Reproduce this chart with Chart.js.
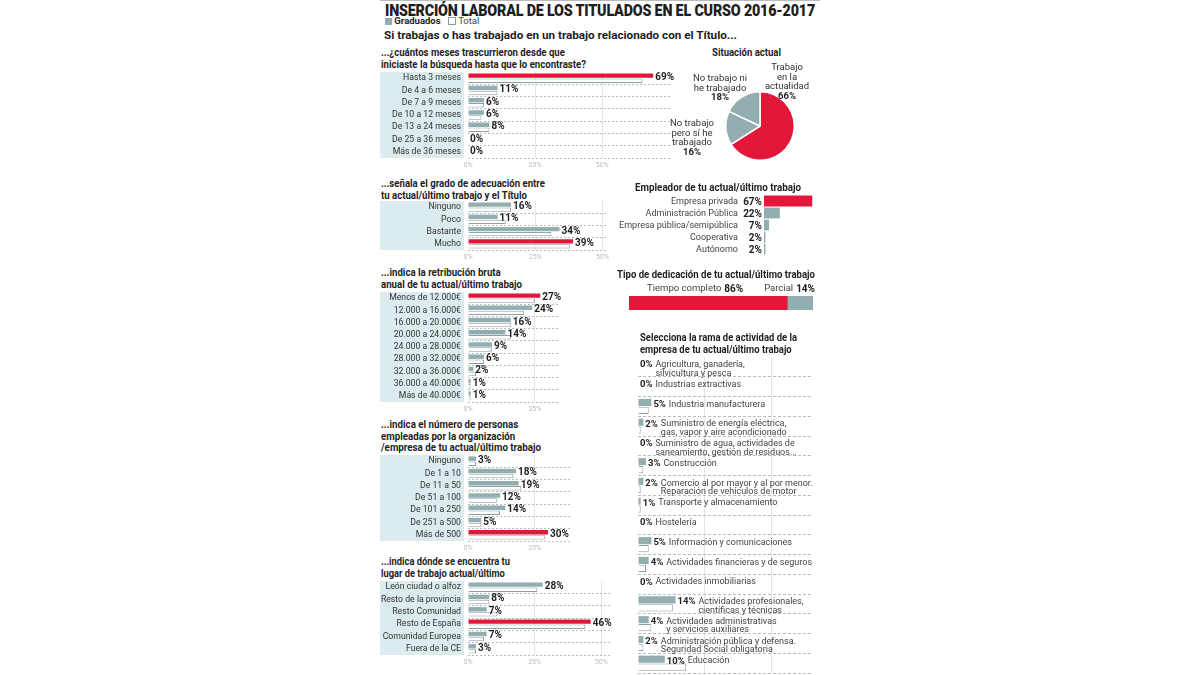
<!DOCTYPE html>
<html lang="es">
<head>
<meta charset="utf-8">
<title>Inserción laboral de los titulados 2016-2017</title>
<script src="https://cdn.jsdelivr.net/npm/chart.js@4.4.0/dist/chart.umd.min.js"></script>
<style>
  body { margin: 0; background: #fff; font-family: Roboto, 'Noto Sans', sans-serif; color: #1e1e1e; }
  #page { position: relative; width: 1200px; height: 675px; overflow: hidden; }
  .t { position: absolute; white-space: nowrap; transform-origin: left top; }
  .h { font-weight: 700; font-size: 10px; line-height: 11.5px; }
  .box { position: absolute; }
  .pie-lbl { position: absolute; width: 80px; text-align: center; font-size: 9.5px; line-height: 9.5px; color: #333; }
  .pie-lbl b { color: #1e1e1e; }
</style>
</head>
<body>
<div id="page">
  <div class="t" style="left:380px;top:0;width:440px;border-top:1px solid #bbb"></div>
  <div class="t" data-w="430" style="left:385px;top:1px;font-size:16px;font-weight:900;letter-spacing:-0.2px">INSERCIÓN LABORAL DE LOS TITULADOS EN EL CURSO 2016-2017</div>
  <div class="t" style="left:385px;top:16px;font-size:9.5px;line-height:10px">
    <span style="display:inline-block;width:7px;height:7px;background:#93aeb1;vertical-align:-1px"></span>
    <b>Graduados</b>
    <span style="display:inline-block;width:6px;height:6px;border:1px solid #8fa0a3;margin-left:5px;vertical-align:-1px"></span>
    <span style="color:#444">Total</span>
  </div>
  <div class="t" data-w="353" style="left:384px;top:29px;font-size:11px;font-weight:700">Si trabajas o has trabajado en un trabajo relacionado con el Título...</div>

  <div class="t h" data-w="205" style="left:381px;top:47px">...¿cuántos meses trascurrieron desde que<br>iniciaste la búsqueda hasta que lo encontraste?</div>
  <div class="box" style="left:380px;top:72px;width:310px;height:98px"><canvas id="cMeses"></canvas></div>

  <div class="t h" data-w="69" style="left:712px;top:47px">Situación actual</div>
  <div class="box" style="left:725px;top:91px;width:70px;height:70px"><canvas id="cSituacion"></canvas></div>
  <div id="pieLabels"></div>

  <div class="t h" data-w="164" style="left:381px;top:178px">...señala el grado de adecuación entre<br>tu actual/último trabajo y el Título</div>
  <div class="box" style="left:380px;top:201px;width:246px;height:61px"><canvas id="cAdecuacion"></canvas></div>

  <div class="t h" data-w="166" style="left:635px;top:182px">Empleador de tu actual/último trabajo</div>
  <div class="box" style="left:610px;top:195px;width:210px;height:60px"><canvas id="cEmpleador"></canvas></div>

  <div class="t h" data-w="141" style="left:381px;top:267px">...indica la retribución bruta<br>anual de tu actual/último trabajo</div>
  <div class="box" style="left:380px;top:292px;width:197px;height:122px"><canvas id="cRetrib"></canvas></div>

  <div class="t h" data-w="198" style="left:617px;top:269px">Tipo de dedicación de tu actual/último trabajo</div>
  <div class="box" style="left:620px;top:282px;width:202px;height:28px"><canvas id="cDedicacion"></canvas></div>

  <div class="t h" data-w="157" style="left:640px;top:332px">Selecciona la rama de actividad de la<br>empresa de tu actual/último trabajo</div>
  <div class="box" style="left:630px;top:357px;width:190px;height:318px"><canvas id="cRama"></canvas></div>

  <div class="t h" data-w="160" style="left:381px;top:419px">...indica el número de personas<br>empleadas por la organización<br>/empresa de tu actual/último trabajo</div>
  <div class="box" style="left:380px;top:455px;width:210px;height:98px"><canvas id="cPersonas"></canvas></div>

  <div class="t h" data-w="129" style="left:381px;top:556px">...indica dónde se encuentra tu<br>lugar de trabajo actual/último</div>
  <div class="box" style="left:380px;top:581px;width:250px;height:86px"><canvas id="cLugar"></canvas></div>
</div>

<script>
// datos
const mesesCats = ['Hasta 3 meses', 'De 4 a 6 meses', 'De 7 a 9 meses', 'De 10 a 12 meses', 'De 13 a 24 meses', 'De 25 a 36 meses', 'Más de 36 meses'];
const mesesGrad = [69, 11, 6, 6, 8, 0, 0];
const mesesTotal = [65, 11, 6, 5, 8, 0, 0];

const adecCats = ['Ninguno', 'Poco', 'Bastante', 'Mucho'];
const adecGrad = [16, 11, 34, 39];
const adecTotal = [16, 14, 31, 38];

const retribCats = ['Menos de 12.000€', '12.000 a 16.000€', '16.000 a 20.000€', '20.000 a 24.000€', '24.000 a 28.000€', '28.000 a 32.000€', '32.000 a 36.000€', '36.000 a 40.000€', 'Más de 40.000€'];
const retribGrad = [27, 24, 16, 14, 9, 6, 2, 1, 1];
const retribTotal = [25, 21, 16, 16, 9, 6, 3, 1, 1];

const personasCats = ['Ninguno', 'De 1 a 10', 'De 11 a 50', 'De 51 a 100', 'De 101 a 250', 'De 251 a 500', 'Más de 500'];
const personasGrad = [3, 18, 19, 12, 14, 5, 30];
const personasTotal = [3, 17, 20, 11, 12, 5, 29];

const lugarCats = ['León ciudad o alfoz', 'Resto de la provincia', 'Resto Comunidad', 'Resto de España', 'Comunidad Europea', 'Fuera de la CE'];
const lugarGrad = [28, 8, 7, 46, 7, 3];
const lugarTotal = [26, 8, 11, 44, 6, 3];

const situacionCats = [['Trabajo', 'en la', 'actualidad'], ['No trabajo', 'pero sí he', 'trabajado'], ['No trabajo ni', 'he trabajado']];
const situacionVals = [66, 16, 18];

const empleadorCats = ['Empresa privada', 'Administración Pública', 'Empresa pública/semipública', 'Cooperativa', 'Autónomo'];
const empleadorVals = [67, 22, 7, 2, 2];

const dedicacionCats = ['Tiempo completo', 'Parcial'];
const dedicacionVals = [86, 14];

const ramaCats = [
  ['Agricultura, ganadería,', 'silvicultura y pesca'],
  ['Industrias extractivas'],
  ['Industria manufacturera'],
  ['Suministro de energía eléctrica,', 'gas, vapor y aire acondicionado'],
  ['Suministro de agua, actividades de', 'saneamiento, gestión de residuos...'],
  ['Construcción'],
  ['Comercio al por mayor y al por menor.', 'Reparación de vehículos de motor'],
  ['Transporte y almacenamiento'],
  ['Hostelería'],
  ['Información y comunicaciones'],
  ['Actividades financieras y de seguros'],
  ['Actividades inmobiliarias'],
  ['Actividades profesionales,', 'científicas y técnicas'],
  ['Actividades administrativas', 'y servicios auxiliares'],
  ['Administración pública y defensa.', 'Seguridad Social obligatoria'],
  ['Educación']
];
const ramaGrad = [0, 0, 5, 2, 0, 3, 2, 1, 0, 5, 4, 0, 14, 4, 2, 10];
const ramaTotal = [0, 0, 4, 1, 0, 2, 1, 1, 0, 4, 3, 0, 13, 5, 2, 18];

const ejeTicks = [0, 25, 50];

// estilos
const ROJO = '#e3173a';
const GRIS = '#93aeb1';
const PANEL = '#dcebee';
const LINEA = '#8fa0a3';
const FUENTE = 'Roboto, sans-serif';
const NADA = 'rgba(0,0,0,0)';

Chart.defaults.font.family = FUENTE;
Chart.defaults.animation = false;
Chart.defaults.plugins.legend.display = false;
Chart.defaults.plugins.tooltip.enabled = false;

// ajusta el ancho de los titulos
document.querySelectorAll('[data-w]').forEach(el => {
  const w = el.getBoundingClientRect().width;
  el.style.transform = 'scaleX(' + (parseFloat(el.dataset.w) / w) + ')';
});

const panelFondo = {
  id: 'panelFondo',
  beforeDraw(chart) {
    const a = chart.chartArea;
    const ctx = chart.ctx;
    ctx.save();
    ctx.fillStyle = PANEL;
    ctx.fillRect(0, a.top, a.left - 4, a.bottom - a.top);
    ctx.restore();
  }
};

const etiquetasPct = {
  id: 'etiquetasPct',
  afterDatasetsDraw(chart) {
    const ctx = chart.ctx;
    const meta = chart.getDatasetMeta(0);
    const datos = chart.data.datasets[0].data;
    ctx.save();
    ctx.font = 'bold 10px ' + FUENTE;
    ctx.fillStyle = '#1e1e1e';
    ctx.textBaseline = 'middle';
    meta.data.forEach((bar, i) => {
      ctx.fillText(datos[i] + '%', Math.max(bar.x, chart.chartArea.left) + 2, bar.y + 2);
    });
    ctx.restore();
  }
};

function gridX(c) {
  return c.tick && c.tick.value === 0 ? NADA : '#e0e5e6';
}

function gridY(c) {
  return c.index === 0 ? NADA : '#b3c0c2';
}

function barrasDobles(id, cats, grad, total, maxX) {
  const mayor = Math.max(...grad);
  new Chart(document.getElementById(id), {
    type: 'bar',
    data: {
      labels: cats,
      datasets: [
        { label: 'Graduados', data: grad, backgroundColor: grad.map(v => v === mayor ? ROJO : GRIS), borderWidth: 0 },
        { label: 'Total', data: total, backgroundColor: '#fff', borderColor: LINEA, borderWidth: 1 }
      ]
    },
    options: {
      indexAxis: 'y',
      responsive: true,
      maintainAspectRatio: false,
      layout: { padding: { right: 18 } },
      datasets: { bar: { categoryPercentage: 0.82, barPercentage: 0.88 } },
      scales: {
        x: {
          min: 0, max: maxX,
          afterBuildTicks: s => { s.ticks = ejeTicks.filter(v => v <= maxX).map(v => ({ value: v })); },
          afterFit: s => { s.height = 12; s.paddingLeft = 0; s.paddingRight = 0; },
          grid: { color: gridX, drawTicks: false },
          border: { display: false },
          ticks: { font: { size: 7 }, color: '#bbb', padding: 3, callback: v => v + '%' }
        },
        y: {
          afterFit: s => { s.width = 88; s.paddingTop = 0; s.paddingBottom = 0; },
          grid: { color: gridY, drawTicks: false },
          border: { display: false, dash: [2, 2] },
          ticks: { font: { size: 8.7 }, color: '#333', padding: 7, autoSkip: false }
        }
      }
    },
    plugins: [panelFondo, etiquetasPct]
  });
}

barrasDobles('cMeses', mesesCats, mesesGrad, mesesTotal, 76);
barrasDobles('cAdecuacion', adecCats, adecGrad, adecTotal, 52);
barrasDobles('cRetrib', retribCats, retribGrad, retribTotal, 34);
barrasDobles('cPersonas', personasCats, personasGrad, personasTotal, 39);
barrasDobles('cLugar', lugarCats, lugarGrad, lugarTotal, 54);

// situación actual
new Chart(document.getElementById('cSituacion'), {
  type: 'pie',
  data: {
    labels: situacionCats.map(l => l.join(' ')),
    datasets: [{ data: situacionVals, backgroundColor: [ROJO, GRIS, GRIS], borderColor: '#fff', borderWidth: 1.5 }]
  },
  options: { responsive: true, maintainAspectRatio: false }
});

const piePos = [[787, 62], [692, 118], [720, 73]];
document.getElementById('pieLabels').innerHTML = situacionCats.map((l, i) =>
  `<div class="pie-lbl" style="left:${piePos[i][0] - 40}px;top:${piePos[i][1]}px">${l.join('<br>')}<br><b>${situacionVals[i]}%</b></div>`
).join('');

// empleador: etiquetas de categoría y porcentaje a la izquierda de la barra
const etiquetasEmpleador = {
  id: 'etiquetasEmpleador',
  afterDatasetsDraw(chart) {
    const ctx = chart.ctx;
    const datos = chart.data.datasets[0].data;
    const izq = chart.chartArea.left;
    ctx.save();
    ctx.textAlign = 'right';
    ctx.textBaseline = 'middle';
    chart.getDatasetMeta(0).data.forEach((bar, i) => {
      ctx.font = 'bold 10px ' + FUENTE;
      ctx.fillStyle = '#1e1e1e';
      ctx.fillText(datos[i] + '%', izq - 2, bar.y + 1);
      ctx.font = '9px ' + FUENTE;
      ctx.fillStyle = '#444';
      ctx.fillText(chart.data.labels[i], izq - 26, bar.y + 1);
    });
    ctx.restore();
  }
};

const mayorEmp = Math.max(...empleadorVals);
new Chart(document.getElementById('cEmpleador'), {
  type: 'bar',
  data: {
    labels: empleadorCats,
    datasets: [{ data: empleadorVals, backgroundColor: empleadorVals.map(v => v === mayorEmp ? ROJO : GRIS), borderWidth: 0 }]
  },
  options: {
    indexAxis: 'y',
    responsive: true,
    maintainAspectRatio: false,
    layout: { padding: { left: 154, right: 2 } },
    datasets: { bar: { categoryPercentage: 1, barPercentage: 0.9 } },
    scales: {
      x: { display: false, min: 0, max: 75 },
      y: { display: false }
    }
  },
  plugins: [etiquetasEmpleador]
});

// dedicación
const etiquetasDedicacion = {
  id: 'etiquetasDedicacion',
  afterDatasetsDraw(chart) {
    const ctx = chart.ctx;
    const y = chart.chartArea.top - 7;
    ctx.save();
    ctx.textBaseline = 'middle';
    ctx.textAlign = 'right';
    chart.data.datasets.forEach((ds, i) => {
      const bar = chart.getDatasetMeta(i).data[0];
      const der = i === 0 ? bar.x - 44 : bar.x + 2;
      ctx.font = 'bold 10px ' + FUENTE;
      ctx.fillStyle = '#1e1e1e';
      const pct = ds.data[0] + '%';
      ctx.fillText(pct, der, y);
      const w = ctx.measureText(pct).width;
      ctx.font = '9.5px ' + FUENTE;
      ctx.fillStyle = '#444';
      ctx.fillText(ds.label, der - w - 3, y);
    });
    ctx.restore();
  }
};

new Chart(document.getElementById('cDedicacion'), {
  type: 'bar',
  data: {
    labels: [''],
    datasets: dedicacionCats.map((c, i) => ({ label: c, data: [dedicacionVals[i]], backgroundColor: i === 0 ? ROJO : GRIS, borderWidth: 0 }))
  },
  options: {
    indexAxis: 'y',
    responsive: true,
    maintainAspectRatio: false,
    layout: { padding: { left: 9, right: 9, top: 14, bottom: 0 } },
    datasets: { bar: { categoryPercentage: 1, barPercentage: 1 } },
    scales: {
      x: { display: false, stacked: true, min: 0, max: 100 },
      y: { display: false, stacked: true }
    }
  },
  plugins: [etiquetasDedicacion]
});

// rama de actividad
const etiquetasRama = {
  id: 'etiquetasRama',
  afterDatasetsDraw(chart) {
    const ctx = chart.ctx;
    const datos = chart.data.datasets[0].data;
    ctx.save();
    ctx.textBaseline = 'middle';
    chart.getDatasetMeta(0).data.forEach((bar, i) => {
      const x = Math.max(bar.x, chart.chartArea.left) + 2;
      const y = bar.y + 2;
      const pct = datos[i] + '%';
      ctx.font = 'bold 9.5px ' + FUENTE;
      ctx.fillStyle = '#1e1e1e';
      ctx.fillText(pct, x, y);
      const xn = x + ctx.measureText(pct).width + 3;
      ctx.font = '9px ' + FUENTE;
      ctx.fillStyle = '#444';
      ramaCats[i].forEach((linea, k) => ctx.fillText(linea, xn, y + k * 8.5));
    });
    ctx.restore();
  }
};

new Chart(document.getElementById('cRama'), {
  type: 'bar',
  data: {
    labels: ramaCats.map(l => l.join(' ')),
    datasets: [
      { label: 'Graduados', data: ramaGrad, backgroundColor: GRIS, borderWidth: 0 },
      { label: 'Total', data: ramaTotal, backgroundColor: '#fff', borderColor: LINEA, borderWidth: 1 }
    ]
  },
  options: {
    indexAxis: 'y',
    responsive: true,
    maintainAspectRatio: false,
    layout: { padding: { left: 8, right: 8, bottom: 2 } },
    datasets: { bar: { categoryPercentage: 0.8, barPercentage: 0.9 } },
    scales: {
      x: {
        min: 0, max: 65,
        afterBuildTicks: s => { s.ticks = ejeTicks.map(v => ({ value: v })); },
        afterFit: s => { s.height = 0; },
        grid: { color: gridX, drawTicks: false },
        border: { display: false },
        ticks: { display: false }
      },
      y: {
        afterFit: s => { s.width = 0; },
        grid: { color: gridY, drawTicks: false },
        border: { display: false, dash: [3, 2] },
        ticks: { display: false }
      }
    }
  },
  plugins: [etiquetasRama]
});
</script>
</body>
</html>
